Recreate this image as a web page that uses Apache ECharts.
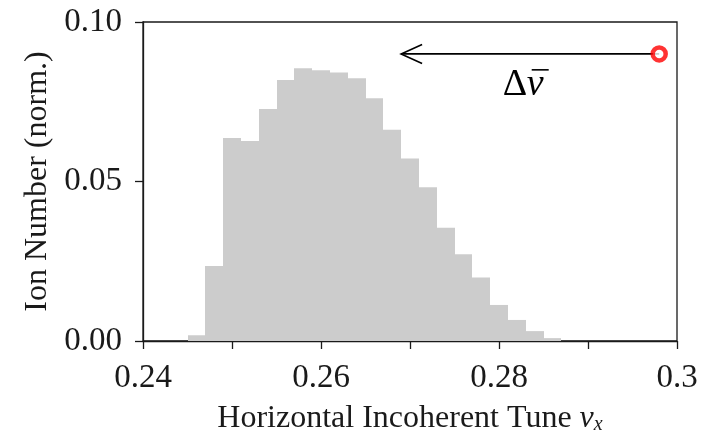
<!DOCTYPE html>
<html><head><meta charset="utf-8">
<script src="https://cdn.jsdelivr.net/npm/echarts@6/dist/echarts.min.js"></script>
<style>html,body{margin:0;padding:0;background:#fff}#c{width:702px;height:433px}</style>
</head><body><div id="c"></div>
<script>
// histogram bins (left edges) and normalized ion numbers
const binLeft = [0.245, 0.247, 0.249, 0.251, 0.253, 0.255, 0.257, 0.259, 0.261, 0.263, 0.265,
                 0.267, 0.269, 0.271, 0.273, 0.275, 0.277, 0.279, 0.281, 0.283, 0.285];
const binRight = [0.247, 0.249, 0.251, 0.253, 0.255, 0.257, 0.259, 0.261, 0.263, 0.265, 0.267,
                  0.269, 0.271, 0.273, 0.275, 0.277, 0.279, 0.281, 0.283, 0.285, 0.287];
const ionNumber = [0.0018, 0.0235, 0.0636, 0.0627, 0.0727, 0.0818, 0.0855, 0.0849, 0.0842, 0.0824, 0.0761,
                   0.0662, 0.0572, 0.0482, 0.0355, 0.0272, 0.0199, 0.0113, 0.0066, 0.0031, 0.0009];
// axis ticks
const xTickValues = [0.24, 0.25, 0.26, 0.27, 0.28, 0.29, 0.30];
const xTickLabels = ['0.24', '', '0.26', '', '0.28', '', '0.3'];
const yTickValues = [0.00, 0.05, 0.10];
const yTickLabels = ['0.00', '0.05', '0.10'];
// annotation
const coherentPoint = [0.298, 0.090];
const arrowTip = [0.269, 0.090];
const shiftLabelPoint = [0.283, 0.0803];
const shiftLabel = 'Δ';
const shiftLabelSym = 'ν';

const FONT = '"Liberation Serif", "Times New Roman", serif';
const INK = '#1a1a1a';

function labelFor(values, labels) {
  return function (v) {
    for (let i = 0; i < values.length; i++) if (Math.abs(values[i] - v) < 1e-9) return labels[i];
    return '';
  };
}

const chart = echarts.init(document.getElementById('c'), null, {renderer: 'canvas'});
chart.setOption({
  animation: false,
  backgroundColor: '#fff',
  grid: {left: 143, right: 25, top: 22, bottom: 92, show: true, borderColor: INK, borderWidth: 1.3, containLabel: false, outerBoundsMode: 'none'},
  xAxis: {
    type: 'value', min: 0.24, max: 0.30, interval: 0.01,
    axisLine: {show: true, onZero: false, lineStyle: {color: INK, width: 1.3}},
    axisTick: {show: true, inside: false, length: 8, lineStyle: {color: INK, width: 1.3}},
    splitLine: {show: false},
    axisLabel: {margin: 21, fontFamily: FONT, fontSize: 33, color: INK, formatter: labelFor(xTickValues, xTickLabels), showMinLabel: true, showMaxLabel: true, hideOverlap: false},
    name: '{a|Horizontal Incoherent Tune }{b|ν}{c|x}',
    nameLocation: 'middle', nameGap: 62, nameMoveOverlap: false,
    nameTextStyle: {
      fontFamily: FONT, fontSize: 32, color: INK,
      rich: {
        a: {fontFamily: FONT, fontSize: 32, color: INK},
        b: {fontFamily: FONT, fontSize: 32, fontStyle: 'italic', color: INK},
        c: {fontFamily: FONT, fontSize: 20, fontStyle: 'italic', color: INK, verticalAlign: 'bottom', padding: [12, 0, 0, 0]}
      }
    }
  },
  yAxis: {
    type: 'value', min: 0, max: 0.10, interval: 0.05,
    axisLine: {show: true, lineStyle: {color: INK, width: 1.3}},
    axisTick: {show: true, inside: false, length: 8, lineStyle: {color: INK, width: 1.3}},
    splitLine: {show: false},
    axisLabel: {margin: 21, fontFamily: FONT, fontSize: 33, color: INK, formatter: labelFor(yTickValues, yTickLabels)},
    name: 'Ion Number (norm.)', nameLocation: 'middle', nameGap: 89, nameRotate: 90, nameMoveOverlap: false,
    nameTextStyle: {fontFamily: FONT, fontSize: 32, color: INK}
  },
  series: [
    {
      type: 'custom', z: 1,
      data: binLeft.map((l, i) => [l, binRight[i], ionNumber[i]]),
      encode: {x: [0, 1], y: 2},
      renderItem: function (params, api) {
        const p0 = api.coord([api.value(0), api.value(2)]);
        const p1 = api.coord([api.value(1), 0]);
        const x0 = Math.round(p0[0]), x1 = Math.round(p1[0]);
        return {type: 'rect', shape: {x: x0, y: p0[1], width: x1 - x0, height: p1[1] - p0[1]}, style: {fill: '#cccccc'}};
      }
    },
    {
      type: 'custom', z: 3,
      data: [[coherentPoint[0], coherentPoint[1], arrowTip[0], arrowTip[1]]],
      encode: {x: [0, 2], y: [1, 3]},
      renderItem: function (params, api) {
        const s = api.coord([api.value(0), api.value(1)]);
        const t = api.coord([api.value(2), api.value(3)]);
        const st = {stroke: '#000', lineWidth: 1.6, fill: null};
        return {type: 'group', children: [
          {type: 'line', shape: {x1: s[0], y1: s[1], x2: t[0], y2: t[1]}, style: st},
          {type: 'polyline', shape: {points: [[t[0] + 21, t[1] - 9.5], [t[0], t[1]], [t[0] + 21, t[1] + 9.5]]}, style: st}
        ]};
      }
    },
    {
      type: 'scatter', z: 4,
      data: [coherentPoint],
      symbol: 'circle', symbolSize: 13,
      itemStyle: {color: '#fff', borderColor: '#ff0000', borderWidth: 4.5}
    },
    {
      type: 'custom', z: 4,
      data: [shiftLabelPoint],
      encode: {x: 0, y: 1},
      renderItem: function (params, api) {
        const p = api.coord([api.value(0), api.value(1)]);
        return {type: 'group', children: [
          {type: 'text', x: p[0] - 23, y: p[1], style: {text: shiftLabel, font: '38px ' + FONT, fill: '#000', textAlign: 'left', textVerticalAlign: 'middle'}},
          {type: 'text', x: p[0] + 1, y: p[1], style: {text: shiftLabelSym, font: 'italic 38px ' + FONT, fill: '#000', textAlign: 'left', textVerticalAlign: 'middle'}},
          {type: 'line', shape: {x1: p[0] + 6, y1: p[1] - 15, x2: p[0] + 23, y2: p[1] - 15}, style: {stroke: '#000', lineWidth: 1.6}}
        ]};
      }
    }
  ]
});
</script>
</body></html>
